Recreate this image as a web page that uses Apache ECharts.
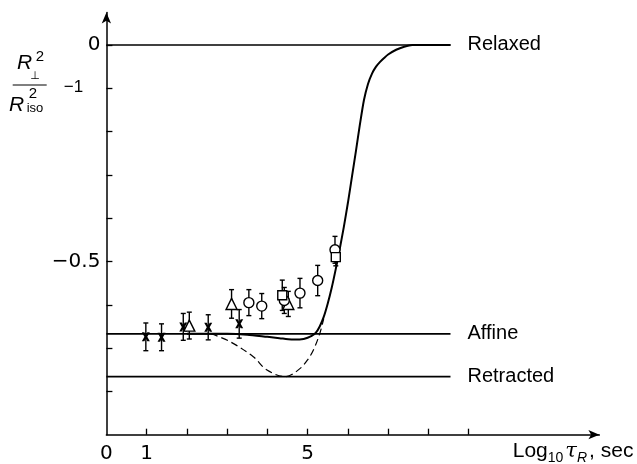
<!DOCTYPE html>
<html>
<head>
<meta charset="utf-8">
<script src="https://cdn.jsdelivr.net/npm/echarts@6/dist/echarts.min.js"></script>
<style>
html,body{margin:0;padding:0;background:#fff;}
#chart{width:637px;height:464px;}
</style>
</head>
<body>
<div id="chart"></div>
<script>
// ---- data ----
const xTickValues = [1, 2, 3, 4, 5, 6, 7, 8, 9];
const xLabelValues = [0, 1, 5];
const yTickValues = [0, -0.1, -0.2, -0.3, -0.4, -0.5, -0.6, -0.7, -0.8];
const yLabelValues = [0, -0.5];

const refNames = ['Relaxed', 'Affine', 'Retracted'];
const refValues = [0, -0.667, -0.766];
const refXStart = 0;
const refXEnd = 8.55;

const theoryX = [2.0, 3.0, 3.5, 4.0, 4.3, 4.6, 4.8, 4.9, 5.0, 5.1, 5.2, 5.3, 5.4, 5.5, 5.6, 5.7, 5.8, 5.9, 6.0, 6.1, 6.2, 6.3, 6.4, 6.5, 6.6, 6.7, 6.8, 6.9, 7.0, 7.2, 7.4, 7.6, 8.55];
const theoryY = [-0.667, -0.667, -0.669, -0.674, -0.677, -0.680, -0.680, -0.679, -0.676, -0.672, -0.665, -0.650, -0.628, -0.597, -0.560, -0.517, -0.470, -0.420, -0.365, -0.305, -0.245, -0.183, -0.127, -0.090, -0.066, -0.050, -0.039, -0.030, -0.022, -0.011, -0.004, 0, 0];

const dashX = [2.6, 3.07, 3.65, 3.98, 4.45, 4.8, 5.0, 5.15, 5.3, 5.4];
const dashY = [-0.667, -0.685, -0.72, -0.75, -0.766, -0.748, -0.727, -0.703, -0.667, -0.632];

const crossX = [0.98, 1.37, 1.91, 2.53, 3.30];
const crossY = [-0.674, -0.675, -0.651, -0.652, -0.644];
const crossErr = [0.032, 0.031, 0.031, 0.029, 0.033];

const triX = [2.06, 3.11, 4.52];
const triY = [-0.648, -0.598, -0.598];
const triErr = [0.031, 0.033, 0.029];

const circX = [3.54, 3.86, 4.42, 4.81, 5.25, 5.68];
const circY = [-0.595, -0.603, -0.590, -0.573, -0.544, -0.473];
const circErr = [0.030, 0.029, 0.030, 0.034, 0.035, 0.031];

const sqX = [4.37, 5.70];
const sqY = [-0.578, -0.49];
const sqErr = [0.035, 0.02];

// ---- build ----
const pairs = (xs, ys) => xs.map((x, i) => [x, ys[i]]);
const errRows = [];
[[crossX, crossY, crossErr], [triX, triY, triErr], [circX, circY, circErr], [sqX, sqY, sqErr]].forEach(([xs, ys, es]) => {
  xs.forEach((x, i) => errRows.push([x, ys[i], es[i]]));
});

const black = '#000';
const textFont = 'Liberation Sans';

const refSeries = refNames.map((n, i) => ({
  name: n,
  type: 'line',
  data: [[refXStart, refValues[i]], [refXEnd, refValues[i]]],
  symbol: 'none',
  lineStyle: { color: black, width: 1.7 },
  endLabel: { show: true, formatter: '{a}', distance: 17, color: black, fontSize: 20, fontFamily: textFont },
  z: 2
}));

const markerStyle = { color: '#fff', borderColor: black, borderWidth: 1.4, opacity: 1 };
const xPath = 'path://M0,0 L3.2,0 L5,3.2 L6.8,0 L10,0 L6.8,5 L10,10 L6.8,10 L5,6.8 L3.2,10 L0,10 L3.2,5 Z';

const option = {
  animation: false,
  backgroundColor: '#fff',
  grid: { left: 106.4, right: 37.6, top: 12.5, bottom: 29.3, containLabel: false, outerBoundsMode: 'none' },
  xAxis: {
    type: 'value',
    min: 0,
    max: 12.25,
    splitLine: { show: false },
    axisLine: { show: true, onZero: false, symbol: ['none', 'arrow'], symbolSize: [7, 11], lineStyle: { color: black, width: 1.5 } },
    axisTick: { show: true, inside: true, length: 6, customValues: xTickValues, lineStyle: { color: black, width: 1.3 } },
    axisLabel: { customValues: xLabelValues, color: black, fontSize: 20, fontFamily: 'DejaVu Sans', margin: 9 },
    name: '{m|Log}{s|10}{t|τ}{r|R}{m|, sec}',
    nameLocation: 'end',
    nameGap: 34,
    nameTextStyle: {
      align: 'right', verticalAlign: 'top', padding: [6, 0, 0, 0], color: black,
      rich: {
        m: { fontSize: 21, fontFamily: textFont, lineHeight: 21, verticalAlign: 'top', color: black },
        s: { fontSize: 14, fontFamily: textFont, lineHeight: 24, verticalAlign: 'bottom', color: black, padding: [0, 2, 0, 0] },
        t: { fontSize: 21, fontFamily: 'DejaVu Serif', fontStyle: 'italic', lineHeight: 21, verticalAlign: 'top', color: black },
        r: { fontSize: 14, fontFamily: textFont, fontStyle: 'italic', lineHeight: 24, verticalAlign: 'bottom', color: black, padding: [0, 2, 0, 0] }
      }
    }
  },
  yAxis: {
    type: 'value',
    min: -0.9,
    max: 0.075,
    splitLine: { show: false },
    axisLine: { show: true, onZero: false, symbol: ['none', 'arrow'], symbolSize: [7, 11], lineStyle: { color: black, width: 1.5 } },
    axisTick: { show: true, inside: true, length: 6, customValues: yTickValues, lineStyle: { color: black, width: 1.3 } },
    axisLabel: {
      customValues: yLabelValues, color: black, fontSize: 20, fontFamily: 'DejaVu Sans', margin: 6,
      formatter: v => (v === 0 ? '0' : '\u2212' + String(Math.abs(v)))
    }
  },
  graphic: [
    { type: 'text', silent: true, style: { x: 24.5, y: 63.5, text: 'R', fontSize: 21, fontStyle: 'italic', fontFamily: textFont, fill: black, align: 'center', verticalAlign: 'middle' } },
    { type: 'text', silent: true, style: { x: 40, y: 57, text: '2', fontSize: 15, fontFamily: textFont, fill: black, align: 'center', verticalAlign: 'middle' } },
    { type: 'text', silent: true, style: { x: 35, y: 76.5, text: '\u22A5', fontSize: 11, fontFamily: 'DejaVu Sans', fill: black, align: 'center', verticalAlign: 'middle' } },
    { type: 'line', silent: true, shape: { x1: 12.7, y1: 85, x2: 46.7, y2: 85 }, style: { stroke: black, lineWidth: 1 } },
    { type: 'text', silent: true, style: { x: 16.5, y: 105, text: 'R', fontSize: 21, fontStyle: 'italic', fontFamily: textFont, fill: black, align: 'center', verticalAlign: 'middle' } },
    { type: 'text', silent: true, style: { x: 33, y: 94, text: '2', fontSize: 15, fontFamily: textFont, fill: black, align: 'center', verticalAlign: 'middle' } },
    { type: 'text', silent: true, style: { x: 35, y: 108.5, text: 'iso', fontSize: 13, fontFamily: textFont, fill: black, align: 'center', verticalAlign: 'middle' } },
    { type: 'text', silent: true, style: { x: 73.5, y: 87, text: '\u22121', fontSize: 17, fontFamily: textFont, fill: black, align: 'center', verticalAlign: 'middle' } }
  ],
  series: [
    ...refSeries,
    {
      name: 'theory', type: 'line', data: pairs(theoryX, theoryY), symbol: 'none',
      smooth: 0.25,
      lineStyle: { color: black, width: 2 }, z: 3
    },
    {
      name: 'dashed', type: 'line', data: pairs(dashX, dashY), symbol: 'none',
      smooth: 0.35,
      lineStyle: { color: black, width: 1.2, type: [7, 4] }, z: 3
    },
    {
      name: 'errorbars', type: 'custom', data: errRows, z: 4,
      renderItem: (params, api) => {
        const x = api.value(0), y = api.value(1), e = api.value(2);
        const top = api.coord([x, y + e]);
        const bot = api.coord([x, y - e]);
        const cap = 2.5;
        const st = { stroke: black, lineWidth: 1.4 };
        return {
          type: 'group',
          children: [
            { type: 'line', shape: { x1: top[0], y1: top[1], x2: bot[0], y2: bot[1] }, style: st },
            { type: 'line', shape: { x1: top[0] - cap, y1: top[1], x2: top[0] + cap, y2: top[1] }, style: st },
            { type: 'line', shape: { x1: bot[0] - cap, y1: bot[1], x2: bot[0] + cap, y2: bot[1] }, style: st }
          ]
        };
      }
    },
    { name: 'cross', type: 'scatter', data: pairs(crossX, crossY), symbol: xPath, symbolSize: [8, 9], itemStyle: { color: black, opacity: 1 }, z: 5 },
    { name: 'triangle', type: 'scatter', data: pairs(triX, triY), symbol: 'triangle', symbolSize: 11, itemStyle: markerStyle, z: 5 },
    { name: 'circle', type: 'scatter', data: pairs(circX, circY), symbol: 'circle', symbolSize: 10, itemStyle: markerStyle, z: 5 },
    { name: 'square', type: 'scatter', data: pairs(sqX, sqY), symbol: 'rect', symbolSize: 9, itemStyle: markerStyle, z: 5 }
  ]
};

const chart = echarts.init(document.getElementById('chart'), null, { renderer: 'canvas' });
chart.setOption(option);
</script>
</body>
</html>
